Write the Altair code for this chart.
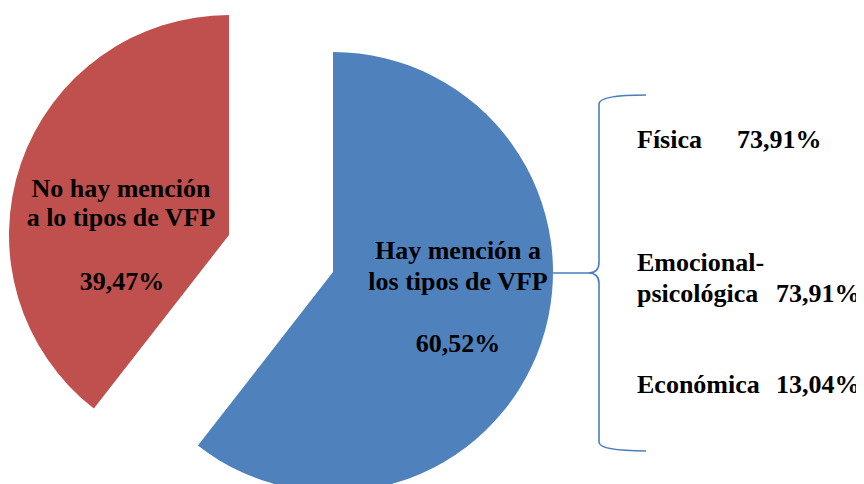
import altair as alt
import pandas as pd

# ---- data ----
categorias = ["Hay mención a los tipos de VFP", "No hay mención a lo tipos de VFP"]
porcentajes = [60.52, 39.47]
orden = [0, 1]

lineas_hay = ["Hay mención a", "los tipos de VFP"]
pct_hay = "60,52%"
lineas_no = ["No hay mención", "a lo tipos de VFP"]
pct_no = "39,47%"

tipos = ["Física", "Emocional-", "psicológica", "Económica"]
tipos_pct = ["73,91%", "73,91%", "13,04%"]

AZUL = "#4F81BD"
ROJO = "#C0504D"
LLAVE = "#4A7EBB"
FUENTE = "Liberation Serif"

df = pd.DataFrame({"cat": categorias, "pct": porcentajes, "orden": orden})


def porcion(idx, cx, cy):
    return alt.Chart(df).mark_arc(radius=220).encode(
        theta=alt.Theta("pct:Q", stack=True),
        order=alt.Order("orden:Q"),
        color=alt.Color("cat:N", scale=alt.Scale(domain=categorias, range=[AZUL, ROJO]), legend=None),
        opacity=alt.condition(f"datum.orden == {idx}", alt.value(1), alt.value(0)),
        x=alt.value(cx),
        y=alt.value(cy),
    )


def texto(t, x, y, align="center"):
    return alt.Chart(pd.DataFrame({"t": [t]})).mark_text(
        font=FUENTE, fontSize=26, fontWeight="bold", align=align,
        baseline="alphabetic", color="black"
    ).encode(text="t:N", x=alt.value(x), y=alt.value(y))


capas = [porcion(0, 325, 264), porcion(1, 221, 227)]

# pie labels
capas += [texto(lineas_no[0], 113, 189), texto(lineas_no[1], 113, 218), texto(pct_no, 114, 282)]
capas += [texto(lineas_hay[0], 450, 251), texto(lineas_hay[1], 450, 282), texto(pct_hay, 450, 344)]

# right-hand list
capas += [
    texto(tipos[0], 629, 140, "left"), texto(tipos_pct[0], 729, 140, "left"),
    texto(tipos[1], 629, 263, "left"),
    texto(tipos[2], 629, 294, "left"), texto(tipos_pct[1], 768, 294, "left"),
    texto(tipos[3], 629, 385, "left"), texto(tipos_pct[2], 768, 385, "left"),
]

# curly brace
llave_path = ("M 0.264 -1 Q 0 -1 0 -0.95 L 0 -0.06 Q 0 0 -0.06 0 L -0.258 0 "
              "M -0.06 0 Q 0 0 0 0.06 L 0 0.95 Q 0 1 0.264 1")
llave = alt.Chart(pd.DataFrame({"k": [1]})).mark_point(
    shape=llave_path, size=126736, filled=False, color=LLAVE,
    strokeWidth=1.6, opacity=1
).encode(x=alt.value(591), y=alt.value(265))
capas.append(llave)

chart = alt.layer(*capas).properties(
    width=848, height=476, padding=0,
    autosize=alt.AutoSizeParams(type="none"),
    background="white",
).configure_view(strokeWidth=0)

chart.save("out.html", embed_options={"renderer": "svg", "actions": False})
